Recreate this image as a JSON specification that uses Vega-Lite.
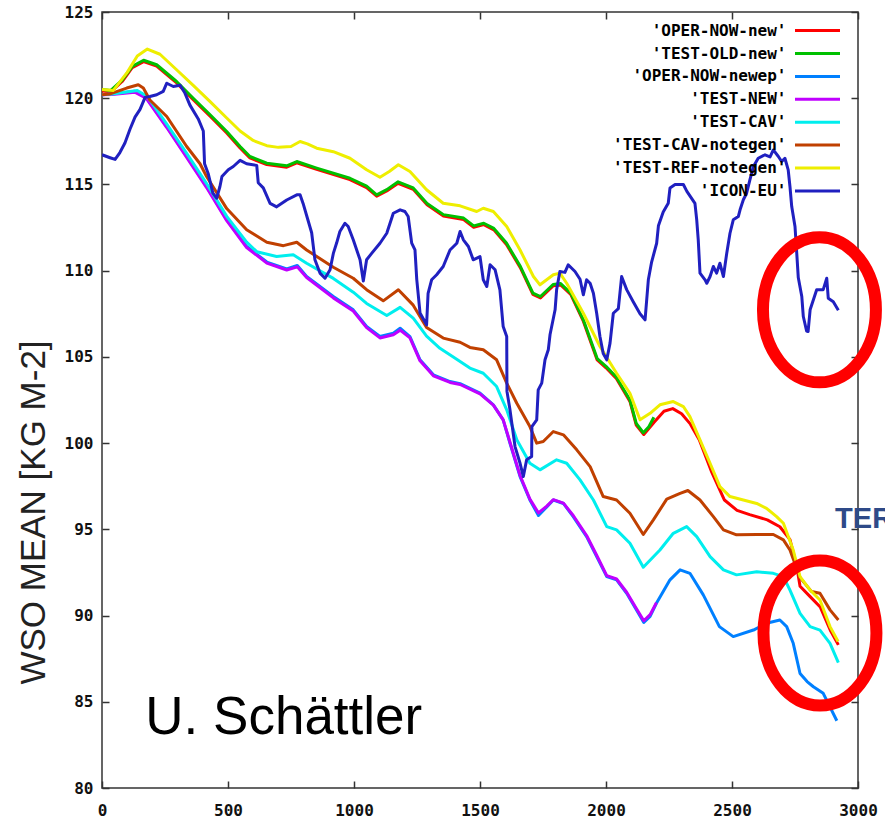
{
  "$schema": "https://vega.github.io/schema/vega-lite/v6.json",
  "width": 756,
  "height": 776,
  "autosize": {"type": "none"},
  "padding": {"left": 102, "top": 12, "right": 27, "bottom": 34},
  "background": "white",
  "config": {
    "view": {"stroke": "#333333", "strokeWidth": 1.5},
    "axis": {
      "grid": false,
      "domain": false,
      "tickColor": "#333333",
      "tickWidth": 1.5,
      "tickSize": -7,
      "labelFont": "DejaVu Sans Mono",
      "labelFontWeight": "bold",
      "labelFontSize": 16,
      "labelColor": "#111111"
    }
  },
  "resolve": {"axis": {"x": "independent", "y": "independent"}},
  "layer": [
    {
      "data": {
        "values": [
          {"s":"'OPER-NOW-new'","x":0,"y":120.42},{"s":"'OPER-NOW-new'","x":35,"y":120.37},{"s":"'OPER-NOW-new'","x":80,"y":120.97},{"s":"'OPER-NOW-new'","x":120,"y":121.77},{"s":"'OPER-NOW-new'","x":165,"y":122.12},{"s":"'OPER-NOW-new'","x":217,"y":121.86},{"s":"'OPER-NOW-new'","x":296,"y":120.89},{"s":"'OPER-NOW-new'","x":362,"y":119.92},{"s":"'OPER-NOW-new'","x":429,"y":118.96},{"s":"'OPER-NOW-new'","x":495,"y":117.99},{"s":"'OPER-NOW-new'","x":548,"y":117.12},{"s":"'OPER-NOW-new'","x":587,"y":116.54},{"s":"'OPER-NOW-new'","x":654,"y":116.15},{"s":"'OPER-NOW-new'","x":733,"y":116.0},{"s":"'OPER-NOW-new'","x":773,"y":116.25},{"s":"'OPER-NOW-new'","x":852,"y":115.87},{"s":"'OPER-NOW-new'","x":984,"y":115.28},{"s":"'OPER-NOW-new'","x":1050,"y":114.82},{"s":"'OPER-NOW-new'","x":1090,"y":114.32},{"s":"'OPER-NOW-new'","x":1130,"y":114.62},{"s":"'OPER-NOW-new'","x":1175,"y":115.07},{"s":"'OPER-NOW-new'","x":1235,"y":114.72},{"s":"'OPER-NOW-new'","x":1290,"y":113.82},{"s":"'OPER-NOW-new'","x":1355,"y":113.17},{"s":"'OPER-NOW-new'","x":1435,"y":112.97},{"s":"'OPER-NOW-new'","x":1475,"y":112.52},{"s":"'OPER-NOW-new'","x":1515,"y":112.67},{"s":"'OPER-NOW-new'","x":1555,"y":112.37},{"s":"'OPER-NOW-new'","x":1605,"y":111.52},{"s":"'OPER-NOW-new'","x":1660,"y":110.17},{"s":"'OPER-NOW-new'","x":1710,"y":108.62},{"s":"'OPER-NOW-new'","x":1740,"y":108.42},{"s":"'OPER-NOW-new'","x":1790,"y":109.12},{"s":"'OPER-NOW-new'","x":1820,"y":109.17},{"s":"'OPER-NOW-new'","x":1860,"y":108.62},{"s":"'OPER-NOW-new'","x":1910,"y":107.07},{"s":"'OPER-NOW-new'","x":1965,"y":104.82},{"s":"'OPER-NOW-new'","x":2000,"y":104.37},{"s":"'OPER-NOW-new'","x":2040,"y":103.77},{"s":"'OPER-NOW-new'","x":2095,"y":102.42},{"s":"'OPER-NOW-new'","x":2120,"y":101.05},{"s":"'OPER-NOW-new'","x":2150,"y":100.5},{"s":"'OPER-NOW-new'","x":2190,"y":101.2},{"s":"'OPER-NOW-new'","x":2230,"y":101.85},{"s":"'OPER-NOW-new'","x":2265,"y":102.0},{"s":"'OPER-NOW-new'","x":2300,"y":101.7},{"s":"'OPER-NOW-new'","x":2335,"y":101.1},{"s":"'OPER-NOW-new'","x":2370,"y":100.2},{"s":"'OPER-NOW-new'","x":2420,"y":98.3},{"s":"'OPER-NOW-new'","x":2470,"y":96.7},{"s":"'OPER-NOW-new'","x":2520,"y":96.1},{"s":"'OPER-NOW-new'","x":2570,"y":95.85},{"s":"'OPER-NOW-new'","x":2640,"y":95.55},{"s":"'OPER-NOW-new'","x":2690,"y":95.15},{"s":"'OPER-NOW-new'","x":2730,"y":94.4},{"s":"'OPER-NOW-new'","x":2757,"y":92.85},{"s":"'OPER-NOW-new'","x":2770,"y":91.7},{"s":"'OPER-NOW-new'","x":2810,"y":91.1},{"s":"'OPER-NOW-new'","x":2850,"y":90.5},{"s":"'OPER-NOW-new'","x":2890,"y":89.15},{"s":"'OPER-NOW-new'","x":2922,"y":88.3},

          {"s":"'TEST-OLD-new'","x":0,"y":120.5},{"s":"'TEST-OLD-new'","x":35,"y":120.45},{"s":"'TEST-OLD-new'","x":80,"y":121.05},{"s":"'TEST-OLD-new'","x":120,"y":121.85},{"s":"'TEST-OLD-new'","x":165,"y":122.2},{"s":"'TEST-OLD-new'","x":217,"y":121.94},{"s":"'TEST-OLD-new'","x":296,"y":120.97},{"s":"'TEST-OLD-new'","x":362,"y":120.0},{"s":"'TEST-OLD-new'","x":429,"y":119.04},{"s":"'TEST-OLD-new'","x":495,"y":118.07},{"s":"'TEST-OLD-new'","x":548,"y":117.2},{"s":"'TEST-OLD-new'","x":587,"y":116.62},{"s":"'TEST-OLD-new'","x":654,"y":116.23},{"s":"'TEST-OLD-new'","x":733,"y":116.08},{"s":"'TEST-OLD-new'","x":773,"y":116.33},{"s":"'TEST-OLD-new'","x":852,"y":115.95},{"s":"'TEST-OLD-new'","x":984,"y":115.36},{"s":"'TEST-OLD-new'","x":1050,"y":114.9},{"s":"'TEST-OLD-new'","x":1090,"y":114.4},{"s":"'TEST-OLD-new'","x":1130,"y":114.7},{"s":"'TEST-OLD-new'","x":1175,"y":115.15},{"s":"'TEST-OLD-new'","x":1235,"y":114.8},{"s":"'TEST-OLD-new'","x":1290,"y":113.9},{"s":"'TEST-OLD-new'","x":1355,"y":113.25},{"s":"'TEST-OLD-new'","x":1435,"y":113.05},{"s":"'TEST-OLD-new'","x":1475,"y":112.6},{"s":"'TEST-OLD-new'","x":1515,"y":112.75},{"s":"'TEST-OLD-new'","x":1555,"y":112.45},{"s":"'TEST-OLD-new'","x":1605,"y":111.6},{"s":"'TEST-OLD-new'","x":1660,"y":110.25},{"s":"'TEST-OLD-new'","x":1710,"y":108.7},{"s":"'TEST-OLD-new'","x":1740,"y":108.5},{"s":"'TEST-OLD-new'","x":1790,"y":109.2},{"s":"'TEST-OLD-new'","x":1820,"y":109.25},{"s":"'TEST-OLD-new'","x":1860,"y":108.7},{"s":"'TEST-OLD-new'","x":1910,"y":107.15},{"s":"'TEST-OLD-new'","x":1965,"y":104.9},{"s":"'TEST-OLD-new'","x":2000,"y":104.45},{"s":"'TEST-OLD-new'","x":2040,"y":103.85},{"s":"'TEST-OLD-new'","x":2095,"y":102.5},{"s":"'TEST-OLD-new'","x":2120,"y":101.15},{"s":"'TEST-OLD-new'","x":2148,"y":100.6},{"s":"'TEST-OLD-new'","x":2170,"y":100.95},{"s":"'TEST-OLD-new'","x":2190,"y":101.5},

          {"s":"'OPER-NOW-newep'","x":0,"y":120.2},{"s":"'OPER-NOW-newep'","x":40,"y":120.25},{"s":"'OPER-NOW-newep'","x":130,"y":120.4},{"s":"'OPER-NOW-newep'","x":175,"y":120.05},{"s":"'OPER-NOW-newep'","x":257,"y":118.35},{"s":"'OPER-NOW-newep'","x":336,"y":116.62},{"s":"'OPER-NOW-newep'","x":415,"y":114.88},{"s":"'OPER-NOW-newep'","x":495,"y":112.95},{"s":"'OPER-NOW-newep'","x":574,"y":111.4},{"s":"'OPER-NOW-newep'","x":654,"y":110.5},{"s":"'OPER-NOW-newep'","x":733,"y":110.1},{"s":"'OPER-NOW-newep'","x":775,"y":110.3},{"s":"'OPER-NOW-newep'","x":812,"y":109.66},{"s":"'OPER-NOW-newep'","x":918,"y":108.5},{"s":"'OPER-NOW-newep'","x":997,"y":107.73},{"s":"'OPER-NOW-newep'","x":1050,"y":106.76},{"s":"'OPER-NOW-newep'","x":1103,"y":106.18},{"s":"'OPER-NOW-newep'","x":1156,"y":106.37},{"s":"'OPER-NOW-newep'","x":1183,"y":106.66},{"s":"'OPER-NOW-newep'","x":1222,"y":106.18},{"s":"'OPER-NOW-newep'","x":1262,"y":104.83},{"s":"'OPER-NOW-newep'","x":1315,"y":103.96},{"s":"'OPER-NOW-newep'","x":1381,"y":103.57},{"s":"'OPER-NOW-newep'","x":1421,"y":103.45},{"s":"'OPER-NOW-newep'","x":1500,"y":102.9},{"s":"'OPER-NOW-newep'","x":1553,"y":102.22},{"s":"'OPER-NOW-newep'","x":1592,"y":101.35},{"s":"'OPER-NOW-newep'","x":1619,"y":99.99},{"s":"'OPER-NOW-newep'","x":1659,"y":98.06},{"s":"'OPER-NOW-newep'","x":1698,"y":96.7},{"s":"'OPER-NOW-newep'","x":1732,"y":95.8},{"s":"'OPER-NOW-newep'","x":1765,"y":96.3},{"s":"'OPER-NOW-newep'","x":1791,"y":96.7},{"s":"'OPER-NOW-newep'","x":1831,"y":96.5},{"s":"'OPER-NOW-newep'","x":1870,"y":95.74},{"s":"'OPER-NOW-newep'","x":1923,"y":94.58},{"s":"'OPER-NOW-newep'","x":1963,"y":93.42},{"s":"'OPER-NOW-newep'","x":2003,"y":92.26},{"s":"'OPER-NOW-newep'","x":2042,"y":92.07},{"s":"'OPER-NOW-newep'","x":2082,"y":91.29},{"s":"'OPER-NOW-newep'","x":2121,"y":90.33},{"s":"'OPER-NOW-newep'","x":2150,"y":89.6},{"s":"'OPER-NOW-newep'","x":2175,"y":89.95},{"s":"'OPER-NOW-newep'","x":2200,"y":90.71},{"s":"'OPER-NOW-newep'","x":2254,"y":92.07},{"s":"'OPER-NOW-newep'","x":2294,"y":92.65},{"s":"'OPER-NOW-newep'","x":2333,"y":92.45},{"s":"'OPER-NOW-newep'","x":2386,"y":91.2},{"s":"'OPER-NOW-newep'","x":2450,"y":89.36},{"s":"'OPER-NOW-newep'","x":2505,"y":88.78},{"s":"'OPER-NOW-newep'","x":2585,"y":89.16},{"s":"'OPER-NOW-newep'","x":2637,"y":89.55},{"s":"'OPER-NOW-newep'","x":2690,"y":89.74},{"s":"'OPER-NOW-newep'","x":2717,"y":89.36},{"s":"'OPER-NOW-newep'","x":2743,"y":88.39},{"s":"'OPER-NOW-newep'","x":2770,"y":86.64},{"s":"'OPER-NOW-newep'","x":2798,"y":86.17},{"s":"'OPER-NOW-newep'","x":2823,"y":85.87},{"s":"'OPER-NOW-newep'","x":2862,"y":85.49},{"s":"'OPER-NOW-newep'","x":2916,"y":83.9},

          {"s":"'TEST-NEW'","x":0,"y":120.2},{"s":"'TEST-NEW'","x":40,"y":120.22},{"s":"'TEST-NEW'","x":130,"y":120.35},{"s":"'TEST-NEW'","x":175,"y":120.0},{"s":"'TEST-NEW'","x":257,"y":118.3},{"s":"'TEST-NEW'","x":336,"y":116.56},{"s":"'TEST-NEW'","x":415,"y":114.82},{"s":"'TEST-NEW'","x":495,"y":112.9},{"s":"'TEST-NEW'","x":574,"y":111.34},{"s":"'TEST-NEW'","x":654,"y":110.44},{"s":"'TEST-NEW'","x":733,"y":110.04},{"s":"'TEST-NEW'","x":775,"y":110.22},{"s":"'TEST-NEW'","x":812,"y":109.6},{"s":"'TEST-NEW'","x":918,"y":108.42},{"s":"'TEST-NEW'","x":997,"y":107.66},{"s":"'TEST-NEW'","x":1050,"y":106.7},{"s":"'TEST-NEW'","x":1103,"y":106.1},{"s":"'TEST-NEW'","x":1156,"y":106.28},{"s":"'TEST-NEW'","x":1183,"y":106.55},{"s":"'TEST-NEW'","x":1222,"y":106.1},{"s":"'TEST-NEW'","x":1262,"y":104.77},{"s":"'TEST-NEW'","x":1315,"y":103.9},{"s":"'TEST-NEW'","x":1381,"y":103.52},{"s":"'TEST-NEW'","x":1421,"y":103.4},{"s":"'TEST-NEW'","x":1500,"y":102.85},{"s":"'TEST-NEW'","x":1553,"y":102.2},{"s":"'TEST-NEW'","x":1592,"y":101.35},{"s":"'TEST-NEW'","x":1619,"y":100.05},{"s":"'TEST-NEW'","x":1659,"y":98.12},{"s":"'TEST-NEW'","x":1698,"y":96.75},{"s":"'TEST-NEW'","x":1732,"y":95.95},{"s":"'TEST-NEW'","x":1765,"y":96.35},{"s":"'TEST-NEW'","x":1791,"y":96.72},{"s":"'TEST-NEW'","x":1831,"y":96.52},{"s":"'TEST-NEW'","x":1870,"y":95.8},{"s":"'TEST-NEW'","x":1923,"y":94.64},{"s":"'TEST-NEW'","x":1963,"y":93.5},{"s":"'TEST-NEW'","x":2003,"y":92.32},{"s":"'TEST-NEW'","x":2042,"y":92.12},{"s":"'TEST-NEW'","x":2082,"y":91.35},{"s":"'TEST-NEW'","x":2121,"y":90.4},{"s":"'TEST-NEW'","x":2150,"y":89.7},{"s":"'TEST-NEW'","x":2175,"y":90.05},{"s":"'TEST-NEW'","x":2200,"y":90.75},

          {"s":"'TEST-CAV'","x":0,"y":120.2},{"s":"'TEST-CAV'","x":40,"y":120.25},{"s":"'TEST-CAV'","x":140,"y":120.45},{"s":"'TEST-CAV'","x":180,"y":120.1},{"s":"'TEST-CAV'","x":257,"y":118.5},{"s":"'TEST-CAV'","x":336,"y":116.8},{"s":"'TEST-CAV'","x":415,"y":115.05},{"s":"'TEST-CAV'","x":495,"y":113.15},{"s":"'TEST-CAV'","x":574,"y":111.65},{"s":"'TEST-CAV'","x":614,"y":111.1},{"s":"'TEST-CAV'","x":693,"y":110.82},{"s":"'TEST-CAV'","x":759,"y":110.92},{"s":"'TEST-CAV'","x":812,"y":110.43},{"s":"'TEST-CAV'","x":918,"y":109.55},{"s":"'TEST-CAV'","x":997,"y":108.75},{"s":"'TEST-CAV'","x":1050,"y":108.1},{"s":"'TEST-CAV'","x":1130,"y":107.4},{"s":"'TEST-CAV'","x":1183,"y":107.87},{"s":"'TEST-CAV'","x":1235,"y":107.25},{"s":"'TEST-CAV'","x":1288,"y":106.2},{"s":"'TEST-CAV'","x":1341,"y":105.5},{"s":"'TEST-CAV'","x":1394,"y":105.0},{"s":"'TEST-CAV'","x":1460,"y":104.35},{"s":"'TEST-CAV'","x":1513,"y":104.05},{"s":"'TEST-CAV'","x":1566,"y":103.28},{"s":"'TEST-CAV'","x":1606,"y":101.93},{"s":"'TEST-CAV'","x":1646,"y":100.19},{"s":"'TEST-CAV'","x":1698,"y":98.83},{"s":"'TEST-CAV'","x":1738,"y":98.45},{"s":"'TEST-CAV'","x":1804,"y":99.03},{"s":"'TEST-CAV'","x":1844,"y":98.83},{"s":"'TEST-CAV'","x":1897,"y":97.87},{"s":"'TEST-CAV'","x":1950,"y":96.7},{"s":"'TEST-CAV'","x":2003,"y":95.16},{"s":"'TEST-CAV'","x":2042,"y":94.97},{"s":"'TEST-CAV'","x":2095,"y":94.19},{"s":"'TEST-CAV'","x":2148,"y":92.8},{"s":"'TEST-CAV'","x":2214,"y":93.8},{"s":"'TEST-CAV'","x":2267,"y":94.77},{"s":"'TEST-CAV'","x":2320,"y":95.16},{"s":"'TEST-CAV'","x":2360,"y":94.58},{"s":"'TEST-CAV'","x":2413,"y":93.42},{"s":"'TEST-CAV'","x":2466,"y":92.65},{"s":"'TEST-CAV'","x":2518,"y":92.36},{"s":"'TEST-CAV'","x":2598,"y":92.54},{"s":"'TEST-CAV'","x":2664,"y":92.45},{"s":"'TEST-CAV'","x":2704,"y":92.26},{"s":"'TEST-CAV'","x":2730,"y":91.48},{"s":"'TEST-CAV'","x":2770,"y":90.13},{"s":"'TEST-CAV'","x":2810,"y":89.36},{"s":"'TEST-CAV'","x":2849,"y":89.16},{"s":"'TEST-CAV'","x":2889,"y":88.39},{"s":"'TEST-CAV'","x":2922,"y":87.27},

          {"s":"'TEST-CAV-notegen'","x":0,"y":120.2},{"s":"'TEST-CAV-notegen'","x":32,"y":120.25},{"s":"'TEST-CAV-notegen'","x":98,"y":120.59},{"s":"'TEST-CAV-notegen'","x":144,"y":120.78},{"s":"'TEST-CAV-notegen'","x":164,"y":120.59},{"s":"'TEST-CAV-notegen'","x":190,"y":119.9},{"s":"'TEST-CAV-notegen'","x":257,"y":118.94},{"s":"'TEST-CAV-notegen'","x":336,"y":117.2},{"s":"'TEST-CAV-notegen'","x":389,"y":116.2},{"s":"'TEST-CAV-notegen'","x":415,"y":115.46},{"s":"'TEST-CAV-notegen'","x":495,"y":113.6},{"s":"'TEST-CAV-notegen'","x":574,"y":112.37},{"s":"'TEST-CAV-notegen'","x":654,"y":111.65},{"s":"'TEST-CAV-notegen'","x":720,"y":111.45},{"s":"'TEST-CAV-notegen'","x":773,"y":111.65},{"s":"'TEST-CAV-notegen'","x":812,"y":111.2},{"s":"'TEST-CAV-notegen'","x":918,"y":110.2},{"s":"'TEST-CAV-notegen'","x":997,"y":109.56},{"s":"'TEST-CAV-notegen'","x":1050,"y":108.9},{"s":"'TEST-CAV-notegen'","x":1116,"y":108.25},{"s":"'TEST-CAV-notegen'","x":1176,"y":108.89},{"s":"'TEST-CAV-notegen'","x":1235,"y":108.0},{"s":"'TEST-CAV-notegen'","x":1288,"y":106.7},{"s":"'TEST-CAV-notegen'","x":1354,"y":106.09},{"s":"'TEST-CAV-notegen'","x":1421,"y":105.85},{"s":"'TEST-CAV-notegen'","x":1460,"y":105.55},{"s":"'TEST-CAV-notegen'","x":1513,"y":105.41},{"s":"'TEST-CAV-notegen'","x":1566,"y":104.83},{"s":"'TEST-CAV-notegen'","x":1606,"y":103.48},{"s":"'TEST-CAV-notegen'","x":1646,"y":102.31},{"s":"'TEST-CAV-notegen'","x":1698,"y":100.96},{"s":"'TEST-CAV-notegen'","x":1725,"y":100.0},{"s":"'TEST-CAV-notegen'","x":1751,"y":100.09},{"s":"'TEST-CAV-notegen'","x":1791,"y":100.67},{"s":"'TEST-CAV-notegen'","x":1831,"y":100.48},{"s":"'TEST-CAV-notegen'","x":1884,"y":99.61},{"s":"'TEST-CAV-notegen'","x":1937,"y":98.64},{"s":"'TEST-CAV-notegen'","x":1989,"y":96.9},{"s":"'TEST-CAV-notegen'","x":2042,"y":96.7},{"s":"'TEST-CAV-notegen'","x":2095,"y":95.93},{"s":"'TEST-CAV-notegen'","x":2148,"y":94.7},{"s":"'TEST-CAV-notegen'","x":2188,"y":95.55},{"s":"'TEST-CAV-notegen'","x":2241,"y":96.75},{"s":"'TEST-CAV-notegen'","x":2294,"y":97.09},{"s":"'TEST-CAV-notegen'","x":2325,"y":97.25},{"s":"'TEST-CAV-notegen'","x":2373,"y":96.7},{"s":"'TEST-CAV-notegen'","x":2426,"y":95.74},{"s":"'TEST-CAV-notegen'","x":2466,"y":94.97},{"s":"'TEST-CAV-notegen'","x":2518,"y":94.68},{"s":"'TEST-CAV-notegen'","x":2598,"y":94.7},{"s":"'TEST-CAV-notegen'","x":2664,"y":94.7},{"s":"'TEST-CAV-notegen'","x":2704,"y":94.39},{"s":"'TEST-CAV-notegen'","x":2730,"y":93.8},{"s":"'TEST-CAV-notegen'","x":2770,"y":92.2},{"s":"'TEST-CAV-notegen'","x":2815,"y":91.4},{"s":"'TEST-CAV-notegen'","x":2849,"y":91.29},{"s":"'TEST-CAV-notegen'","x":2889,"y":90.33},{"s":"'TEST-CAV-notegen'","x":2922,"y":89.74},

          {"s":"'TEST-REF-notegen'","x":0,"y":120.5},{"s":"'TEST-REF-notegen'","x":45,"y":120.45},{"s":"'TEST-REF-notegen'","x":100,"y":121.5},{"s":"'TEST-REF-notegen'","x":140,"y":122.45},{"s":"'TEST-REF-notegen'","x":180,"y":122.85},{"s":"'TEST-REF-notegen'","x":230,"y":122.55},{"s":"'TEST-REF-notegen'","x":296,"y":121.65},{"s":"'TEST-REF-notegen'","x":362,"y":120.75},{"s":"'TEST-REF-notegen'","x":429,"y":119.8},{"s":"'TEST-REF-notegen'","x":495,"y":118.85},{"s":"'TEST-REF-notegen'","x":548,"y":118.1},{"s":"'TEST-REF-notegen'","x":600,"y":117.55},{"s":"'TEST-REF-notegen'","x":654,"y":117.25},{"s":"'TEST-REF-notegen'","x":700,"y":117.15},{"s":"'TEST-REF-notegen'","x":750,"y":117.2},{"s":"'TEST-REF-notegen'","x":786,"y":117.49},{"s":"'TEST-REF-notegen'","x":815,"y":117.35},{"s":"'TEST-REF-notegen'","x":852,"y":117.1},{"s":"'TEST-REF-notegen'","x":918,"y":116.9},{"s":"'TEST-REF-notegen'","x":984,"y":116.52},{"s":"'TEST-REF-notegen'","x":1050,"y":115.85},{"s":"'TEST-REF-notegen'","x":1103,"y":115.42},{"s":"'TEST-REF-notegen'","x":1140,"y":115.75},{"s":"'TEST-REF-notegen'","x":1176,"y":116.14},{"s":"'TEST-REF-notegen'","x":1222,"y":115.75},{"s":"'TEST-REF-notegen'","x":1288,"y":114.69},{"s":"'TEST-REF-notegen'","x":1354,"y":113.91},{"s":"'TEST-REF-notegen'","x":1421,"y":113.76},{"s":"'TEST-REF-notegen'","x":1487,"y":113.43},{"s":"'TEST-REF-notegen'","x":1513,"y":113.62},{"s":"'TEST-REF-notegen'","x":1553,"y":113.43},{"s":"'TEST-REF-notegen'","x":1606,"y":112.56},{"s":"'TEST-REF-notegen'","x":1659,"y":111.2},{"s":"'TEST-REF-notegen'","x":1712,"y":109.66},{"s":"'TEST-REF-notegen'","x":1738,"y":109.18},{"s":"'TEST-REF-notegen'","x":1791,"y":109.76},{"s":"'TEST-REF-notegen'","x":1817,"y":109.86},{"s":"'TEST-REF-notegen'","x":1844,"y":109.27},{"s":"'TEST-REF-notegen'","x":1910,"y":107.53},{"s":"'TEST-REF-notegen'","x":1976,"y":105.6},{"s":"'TEST-REF-notegen'","x":2042,"y":104.05},{"s":"'TEST-REF-notegen'","x":2095,"y":102.89},{"s":"'TEST-REF-notegen'","x":2135,"y":101.35},{"s":"'TEST-REF-notegen'","x":2175,"y":101.73},{"s":"'TEST-REF-notegen'","x":2214,"y":102.22},{"s":"'TEST-REF-notegen'","x":2267,"y":102.41},{"s":"'TEST-REF-notegen'","x":2307,"y":102.12},{"s":"'TEST-REF-notegen'","x":2333,"y":101.54},{"s":"'TEST-REF-notegen'","x":2373,"y":100.19},{"s":"'TEST-REF-notegen'","x":2413,"y":98.83},{"s":"'TEST-REF-notegen'","x":2452,"y":97.48},{"s":"'TEST-REF-notegen'","x":2492,"y":96.9},{"s":"'TEST-REF-notegen'","x":2545,"y":96.7},{"s":"'TEST-REF-notegen'","x":2598,"y":96.5},{"s":"'TEST-REF-notegen'","x":2637,"y":96.22},{"s":"'TEST-REF-notegen'","x":2677,"y":95.74},{"s":"'TEST-REF-notegen'","x":2704,"y":95.35},{"s":"'TEST-REF-notegen'","x":2743,"y":93.8},{"s":"'TEST-REF-notegen'","x":2770,"y":92.26},{"s":"'TEST-REF-notegen'","x":2810,"y":91.48},{"s":"'TEST-REF-notegen'","x":2849,"y":90.9},{"s":"'TEST-REF-notegen'","x":2889,"y":89.36},{"s":"'TEST-REF-notegen'","x":2921,"y":88.5},

          {"s":"'ICON-EU'","x":0,"y":116.72},{"s":"'ICON-EU'","x":32,"y":116.55},{"s":"'ICON-EU'","x":52,"y":116.45},{"s":"'ICON-EU'","x":71,"y":116.85},{"s":"'ICON-EU'","x":91,"y":117.4},{"s":"'ICON-EU'","x":111,"y":118.2},{"s":"'ICON-EU'","x":131,"y":118.9},{"s":"'ICON-EU'","x":151,"y":119.35},{"s":"'ICON-EU'","x":171,"y":120.05},{"s":"'ICON-EU'","x":190,"y":120.1},{"s":"'ICON-EU'","x":217,"y":120.2},{"s":"'ICON-EU'","x":243,"y":120.4},{"s":"'ICON-EU'","x":257,"y":120.87},{"s":"'ICON-EU'","x":283,"y":120.68},{"s":"'ICON-EU'","x":310,"y":120.75},{"s":"'ICON-EU'","x":329,"y":120.3},{"s":"'ICON-EU'","x":349,"y":119.6},{"s":"'ICON-EU'","x":382,"y":118.8},{"s":"'ICON-EU'","x":402,"y":118.1},{"s":"'ICON-EU'","x":407,"y":116.2},{"s":"'ICON-EU'","x":422,"y":115.6},{"s":"'ICON-EU'","x":440,"y":114.5},{"s":"'ICON-EU'","x":455,"y":114.2},{"s":"'ICON-EU'","x":468,"y":114.88},{"s":"'ICON-EU'","x":476,"y":115.46},{"s":"'ICON-EU'","x":501,"y":115.85},{"s":"'ICON-EU'","x":521,"y":116.04},{"s":"'ICON-EU'","x":548,"y":116.4},{"s":"'ICON-EU'","x":574,"y":116.2},{"s":"'ICON-EU'","x":614,"y":116.1},{"s":"'ICON-EU'","x":620,"y":115.1},{"s":"'ICON-EU'","x":640,"y":114.8},{"s":"'ICON-EU'","x":667,"y":113.9},{"s":"'ICON-EU'","x":693,"y":113.7},{"s":"'ICON-EU'","x":733,"y":114.1},{"s":"'ICON-EU'","x":773,"y":114.4},{"s":"'ICON-EU'","x":786,"y":114.4},{"s":"'ICON-EU'","x":798,"y":113.9},{"s":"'ICON-EU'","x":812,"y":113.2},{"s":"'ICON-EU'","x":832,"y":112.2},{"s":"'ICON-EU'","x":845,"y":110.63},{"s":"'ICON-EU'","x":865,"y":109.86},{"s":"'ICON-EU'","x":885,"y":109.56},{"s":"'ICON-EU'","x":905,"y":110.05},{"s":"'ICON-EU'","x":918,"y":111.0},{"s":"'ICON-EU'","x":931,"y":111.6},{"s":"'ICON-EU'","x":944,"y":112.27},{"s":"'ICON-EU'","x":964,"y":112.75},{"s":"'ICON-EU'","x":977,"y":112.56},{"s":"'ICON-EU'","x":997,"y":111.79},{"s":"'ICON-EU'","x":1024,"y":110.63},{"s":"'ICON-EU'","x":1037,"y":109.4},{"s":"'ICON-EU'","x":1050,"y":110.63},{"s":"'ICON-EU'","x":1070,"y":111.0},{"s":"'ICON-EU'","x":1103,"y":111.59},{"s":"'ICON-EU'","x":1130,"y":112.17},{"s":"'ICON-EU'","x":1156,"y":113.33},{"s":"'ICON-EU'","x":1183,"y":113.53},{"s":"'ICON-EU'","x":1202,"y":113.43},{"s":"'ICON-EU'","x":1215,"y":113.14},{"s":"'ICON-EU'","x":1229,"y":111.6},{"s":"'ICON-EU'","x":1242,"y":111.2},{"s":"'ICON-EU'","x":1249,"y":109.5},{"s":"'ICON-EU'","x":1262,"y":107.55},{"s":"'ICON-EU'","x":1288,"y":106.86},{"s":"'ICON-EU'","x":1294,"y":108.69},{"s":"'ICON-EU'","x":1308,"y":109.47},{"s":"'ICON-EU'","x":1328,"y":109.76},{"s":"'ICON-EU'","x":1354,"y":110.24},{"s":"'ICON-EU'","x":1381,"y":111.2},{"s":"'ICON-EU'","x":1408,"y":111.59},{"s":"'ICON-EU'","x":1421,"y":112.27},{"s":"'ICON-EU'","x":1434,"y":111.79},{"s":"'ICON-EU'","x":1454,"y":111.4},{"s":"'ICON-EU'","x":1473,"y":110.63},{"s":"'ICON-EU'","x":1500,"y":110.82},{"s":"'ICON-EU'","x":1513,"y":109.47},{"s":"'ICON-EU'","x":1527,"y":109.08},{"s":"'ICON-EU'","x":1540,"y":110.34},{"s":"'ICON-EU'","x":1560,"y":110.05},{"s":"'ICON-EU'","x":1579,"y":108.89},{"s":"'ICON-EU'","x":1592,"y":106.76},{"s":"'ICON-EU'","x":1606,"y":106.18},{"s":"'ICON-EU'","x":1607,"y":103.0},{"s":"'ICON-EU'","x":1619,"y":101.93},{"s":"'ICON-EU'","x":1639,"y":99.8},{"s":"'ICON-EU'","x":1659,"y":98.83},{"s":"'ICON-EU'","x":1672,"y":98.06},{"s":"'ICON-EU'","x":1685,"y":99.03},{"s":"'ICON-EU'","x":1705,"y":99.22},{"s":"'ICON-EU'","x":1706,"y":100.96},{"s":"'ICON-EU'","x":1725,"y":101.35},{"s":"'ICON-EU'","x":1731,"y":103.09},{"s":"'ICON-EU'","x":1745,"y":103.48},{"s":"'ICON-EU'","x":1758,"y":104.83},{"s":"'ICON-EU'","x":1771,"y":105.41},{"s":"'ICON-EU'","x":1778,"y":106.3},{"s":"'ICON-EU'","x":1798,"y":107.73},{"s":"'ICON-EU'","x":1804,"y":108.89},{"s":"'ICON-EU'","x":1817,"y":109.95},{"s":"'ICON-EU'","x":1837,"y":109.9},{"s":"'ICON-EU'","x":1850,"y":110.34},{"s":"'ICON-EU'","x":1864,"y":110.14},{"s":"'ICON-EU'","x":1877,"y":109.95},{"s":"'ICON-EU'","x":1897,"y":109.5},{"s":"'ICON-EU'","x":1910,"y":108.6},{"s":"'ICON-EU'","x":1923,"y":109.47},{"s":"'ICON-EU'","x":1937,"y":109.27},{"s":"'ICON-EU'","x":1950,"y":108.69},{"s":"'ICON-EU'","x":1963,"y":107.53},{"s":"'ICON-EU'","x":1976,"y":106.18},{"s":"'ICON-EU'","x":1989,"y":105.2},{"s":"'ICON-EU'","x":2003,"y":104.83},{"s":"'ICON-EU'","x":2016,"y":105.8},{"s":"'ICON-EU'","x":2029,"y":107.53},{"s":"'ICON-EU'","x":2049,"y":107.8},{"s":"'ICON-EU'","x":2062,"y":109.66},{"s":"'ICON-EU'","x":2082,"y":108.9},{"s":"'ICON-EU'","x":2108,"y":108.2},{"s":"'ICON-EU'","x":2135,"y":107.5},{"s":"'ICON-EU'","x":2155,"y":107.15},{"s":"'ICON-EU'","x":2168,"y":109.47},{"s":"'ICON-EU'","x":2181,"y":110.5},{"s":"'ICON-EU'","x":2201,"y":111.59},{"s":"'ICON-EU'","x":2208,"y":112.6},{"s":"'ICON-EU'","x":2227,"y":113.4},{"s":"'ICON-EU'","x":2247,"y":113.91},{"s":"'ICON-EU'","x":2254,"y":114.8},{"s":"'ICON-EU'","x":2274,"y":115.0},{"s":"'ICON-EU'","x":2307,"y":115.0},{"s":"'ICON-EU'","x":2321,"y":114.6},{"s":"'ICON-EU'","x":2353,"y":113.9},{"s":"'ICON-EU'","x":2360,"y":112.95},{"s":"'ICON-EU'","x":2366,"y":111.8},{"s":"'ICON-EU'","x":2373,"y":109.86},{"s":"'ICON-EU'","x":2393,"y":109.47},{"s":"'ICON-EU'","x":2400,"y":109.27},{"s":"'ICON-EU'","x":2413,"y":109.66},{"s":"'ICON-EU'","x":2426,"y":110.24},{"s":"'ICON-EU'","x":2439,"y":109.86},{"s":"'ICON-EU'","x":2452,"y":110.43},{"s":"'ICON-EU'","x":2466,"y":109.66},{"s":"'ICON-EU'","x":2479,"y":111.0},{"s":"'ICON-EU'","x":2492,"y":112.17},{"s":"'ICON-EU'","x":2505,"y":112.95},{"s":"'ICON-EU'","x":2525,"y":113.14},{"s":"'ICON-EU'","x":2532,"y":113.53},{"s":"'ICON-EU'","x":2545,"y":114.11},{"s":"'ICON-EU'","x":2558,"y":114.49},{"s":"'ICON-EU'","x":2571,"y":115.27},{"s":"'ICON-EU'","x":2585,"y":116.04},{"s":"'ICON-EU'","x":2604,"y":116.52},{"s":"'ICON-EU'","x":2631,"y":116.72},{"s":"'ICON-EU'","x":2651,"y":116.6},{"s":"'ICON-EU'","x":2664,"y":117.0},{"s":"'ICON-EU'","x":2684,"y":116.62},{"s":"'ICON-EU'","x":2697,"y":116.33},{"s":"'ICON-EU'","x":2710,"y":116.52},{"s":"'ICON-EU'","x":2723,"y":115.85},{"s":"'ICON-EU'","x":2730,"y":114.88},{"s":"'ICON-EU'","x":2737,"y":113.72},{"s":"'ICON-EU'","x":2750,"y":112.56},{"s":"'ICON-EU'","x":2757,"y":111.0},{"s":"'ICON-EU'","x":2763,"y":109.6},{"s":"'ICON-EU'","x":2777,"y":108.5},{"s":"'ICON-EU'","x":2783,"y":107.34},{"s":"'ICON-EU'","x":2796,"y":106.5},{"s":"'ICON-EU'","x":2802,"y":106.47},{"s":"'ICON-EU'","x":2810,"y":107.73},{"s":"'ICON-EU'","x":2836,"y":108.89},{"s":"'ICON-EU'","x":2862,"y":108.9},{"s":"'ICON-EU'","x":2876,"y":109.56},{"s":"'ICON-EU'","x":2882,"y":108.4},{"s":"'ICON-EU'","x":2902,"y":108.2},{"s":"'ICON-EU'","x":2922,"y":107.7}
        ]
      },
      "mark": {"type": "line", "strokeWidth": 3, "strokeJoin": "round", "clip": true},
      "encoding": {
        "x": {
          "field": "x", "type": "quantitative",
          "scale": {"domain": [0, 3000], "nice": false, "zero": false},
          "axis": {"orient": "bottom", "title": null, "format": "d", "values": [0, 500, 1000, 1500, 2000, 2500, 3000], "labelPadding": 21, "labelFlush": false}
        },
        "y": {
          "field": "y", "type": "quantitative",
          "scale": {"domain": [80, 125], "nice": false, "zero": false},
          "axis": {
            "orient": "left",
            "format": "d",
            "values": [80, 85, 90, 95, 100, 105, 110, 115, 120, 125],
            "labelPadding": 16,
            "labelFlush": false,
            "title": "WSO MEAN [KG M-2]",
            "titleFont": "Liberation Sans",
            "titleFontSize": 35,
            "titleFontWeight": "normal",
            "titleColor": "#222222",
            "titleAngle": 270,
            "titleAlign": "center",
            "titleBaseline": "middle",
            "titleX": -69,
            "titleY": 500
          }
        },
        "color": {
          "field": "s", "type": "nominal",
          "scale": {
            "domain": ["'OPER-NOW-new'", "'TEST-OLD-new'", "'OPER-NOW-newep'", "'TEST-NEW'", "'TEST-CAV'", "'TEST-CAV-notegen'", "'TEST-REF-notegen'", "'ICON-EU'"],
            "range": ["#ff0000", "#00c000", "#0080ff", "#c000ff", "#00eeee", "#c04000", "#eeee00", "#2020c0"]
          },
          "legend": {
            "title": null,
            "orient": "none",
            "legendX": 706.5,
            "legendY": 9.6,
            "padding": 0,
            "symbolType": "M -3 0 L 3 0",
            "symbolSize": 225,
            "symbolStrokeWidth": 3,
            "symbolFillColor": "transparent",
            "labelFont": "DejaVu Sans Mono",
            "labelFontWeight": "bold",
            "labelFontSize": 16,
            "labelColor": "#000000",
            "labelAlign": "right",
            "labelOffset": -40,
            "labelLimit": 400,
            "rowPadding": 5.9
          }
        }
      }
    },
    {
      "data": {"values": [{"x": 2847, "y": 107.73}, {"x": 2849, "y": 88.99}]},
      "mark": {
        "type": "point",
        "shape": "M -0.779 0 A 0.779 1 0 1 0 0.779 0 A 0.779 1 0 1 0 -0.779 0 Z",
        "size": 21025,
        "filled": false,
        "stroke": "#ff0000",
        "strokeWidth": 12,
        "opacity": 1
      },
      "encoding": {
        "x": {"field": "x", "type": "quantitative", "axis": {"orient": "top", "labels": false, "title": null, "values": [0, 500, 1000, 1500, 2000, 2500, 3000]}},
        "y": {"field": "y", "type": "quantitative", "axis": {"orient": "right", "labels": false, "title": null, "values": [80, 85, 90, 95, 100, 105, 110, 115, 120, 125]}}
      }
    },
    {
      "data": {"values": [{"x": 172, "y": 83.16, "t": "U. Schättler"}]},
      "mark": {"type": "text", "font": "Liberation Sans", "fontSize": 53, "color": "#000000", "align": "left", "baseline": "alphabetic"},
      "encoding": {
        "x": {"field": "x", "type": "quantitative", "axis": null},
        "y": {"field": "y", "type": "quantitative", "axis": null},
        "text": {"field": "t"}
      }
    },
    {
      "data": {"values": [{"x": 2909, "y": 95.08, "t": "TERI"}]},
      "mark": {"type": "text", "font": "Liberation Sans", "fontSize": 29, "fontWeight": "bold", "color": "#2e4a88", "align": "left", "baseline": "alphabetic"},
      "encoding": {
        "x": {"field": "x", "type": "quantitative", "axis": null},
        "y": {"field": "y", "type": "quantitative", "axis": null},
        "text": {"field": "t"}
      }
    }
  ]
}
